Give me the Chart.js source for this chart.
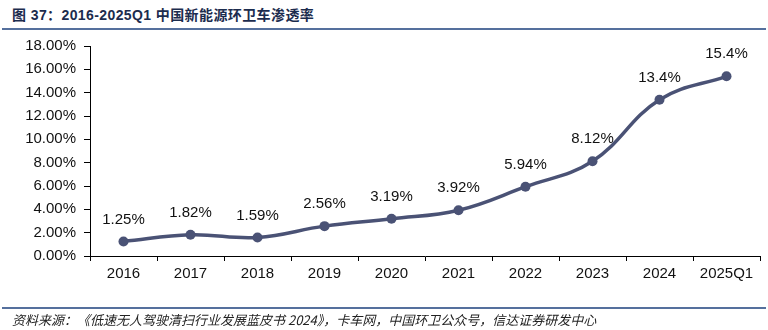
<!DOCTYPE html>
<html>
<head>
<meta charset="utf-8">
<script src="https://cdn.jsdelivr.net/npm/chart.js@4"></script>
<style>
  body { margin: 0; width: 768px; height: 330px; background: #fff; position: relative; overflow: hidden; }
  #title { position: absolute; left: 12px; top: 4px; font: bold 14px "Liberation Sans", "Noto Sans CJK SC", sans-serif; letter-spacing: 0.4px; color: #1c2c4e; white-space: nowrap; }
  #titleRule { position: absolute; left: 2px; right: 2px; top: 28px; height: 2px; background: #55709d; }
  #footRule { position: absolute; left: 2px; right: 2px; top: 307px; height: 2px; background: #55709d; }
  #source { position: absolute; left: 12px; top: 310px; font: italic 13px "Noto Sans CJK SC", sans-serif; color: #222; white-space: nowrap; }
  #wrap { position: absolute; left: 0; top: 0; width: 768px; height: 330px; }
</style>
</head>
<body>
<div id="title">图 37：2016-2025Q1 中国新能源环卫车渗透率</div>
<div id="titleRule"></div>
<div id="wrap"><canvas id="chartRate"></canvas></div>
<div id="footRule"></div>
<div id="source">资料来源：《低速无人驾驶清扫行业发展蓝皮书 2024》，卡车网，中国环卫公众号，信达证券研发中心</div>
<script>
var years = ['2016', '2017', '2018', '2019', '2020', '2021', '2022', '2023', '2024', '2025Q1'];
var rates = [1.25, 1.82, 1.59, 2.56, 3.19, 3.92, 5.94, 8.12, 13.4, 15.4];
var rateLabels = ['1.25%', '1.82%', '1.59%', '2.56%', '3.19%', '3.92%', '5.94%', '8.12%', '13.4%', '15.4%'];

var lineColor = '#4a5275';

// value text above each point
var pointLabels = {
    id: 'pointLabels',
    afterDatasetsDraw: function (chart) {
        var ctx = chart.ctx;
        var meta = chart.getDatasetMeta(0);
        ctx.save();
        ctx.font = '15px "Liberation Sans", Arial, sans-serif';
        ctx.fillStyle = '#111';
        ctx.textAlign = 'center';
        ctx.textBaseline = 'middle';
        meta.data.forEach(function (pt, i) {
            ctx.fillText(rateLabels[i], pt.x, pt.y - 22);
        });
        ctx.restore();
    }
};

const chartRate = document.getElementById('chartRate');

new Chart(chartRate, {
    type: 'line',
    data: {
        labels: years,
        datasets: [
            {
                data: rates,
                borderColor: lineColor,
                backgroundColor: lineColor,
                borderWidth: 3.5,
                pointRadius: 5,
                pointBackgroundColor: lineColor,
                pointBorderWidth: 0,
                tension: 0.4,
            }
        ]
    },
    options: {
        responsive: true,
        maintainAspectRatio: false,
        animation: false,
        layout: {
            padding: { top: 46, right: 8, bottom: 0, left: 0 }
        },
        plugins: {
            legend: { display: false },
            tooltip: { enabled: false }
        },
        scales: {
            x: {
                offset: true,
                grid: {
                    offset: true,
                    drawOnChartArea: false,
                    drawTicks: true,
                    tickLength: 5,
                    color: '#000'
                },
                border: { color: '#000', width: 1 },
                ticks: {
                    color: '#111',
                    padding: 4,
                    font: { size: 15, family: '"Liberation Sans", Arial, sans-serif' }
                },
                afterFit: function (scale) { scale.height = 74; }
            },
            y: {
                min: 0,
                max: 18,
                grid: {
                    drawOnChartArea: false,
                    drawTicks: true,
                    tickLength: 6,
                    color: '#000'
                },
                border: { color: '#000', width: 1 },
                ticks: {
                    stepSize: 2,
                    color: '#111',
                    padding: 8,
                    font: { size: 15, family: '"Liberation Sans", Arial, sans-serif' },
                    callback: function (v) { return v.toFixed(2) + '%'; }
                },
                afterFit: function (scale) { scale.width = 90; }
            }
        }
    },
    plugins: [pointLabels]
});
</script>
</body>
</html>
